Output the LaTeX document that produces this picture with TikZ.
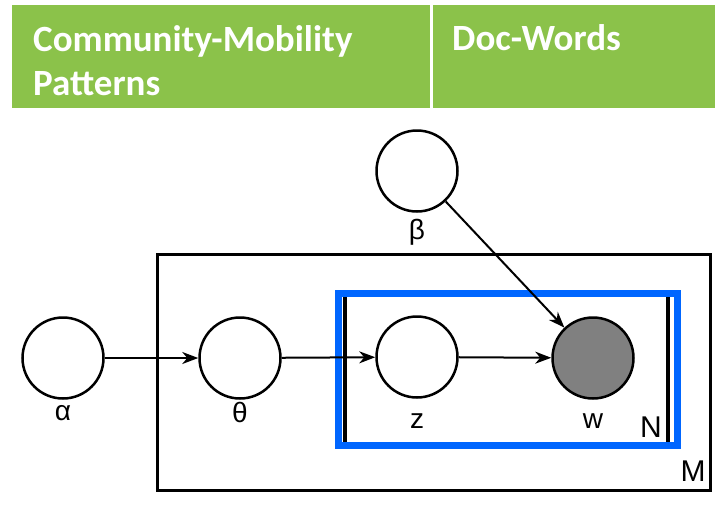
\documentclass[tikz,border=0pt]{standalone}
\usepackage{fontspec}
\setmainfont{Carlito}
\newfontfamily\labelfont{Liberation Sans}
\usetikzlibrary{arrows.meta}
\definecolor{headergreen}{HTML}{8BC24A}
\definecolor{plateblue}{HTML}{0066FF}
\definecolor{obsgray}{HTML}{808080}
\tikzset{
  header/.style={text=white, font=\fontsize{37}{43}\selectfont\bfseries, inner sep=0pt, anchor=base west},
  var/.style={circle, draw=black, line width=2.5pt, minimum size=81pt, inner sep=0pt, fill=white},
  obs/.style={var, fill=obsgray},
  lbl/.style={font=\labelfont\fontsize{28}{28}\selectfont, inner sep=0pt, anchor=base},
  platelbl/.style={font=\labelfont\fontsize{30}{30}\selectfont, inner sep=0pt, anchor=base},
  edge/.style={draw=black, line width=2pt, -{Stealth[length=16pt, width=12pt, inset=5pt]}},
  plate/.style={draw=black, line width=3pt},
}
\begin{document}
\begin{tikzpicture}[x=1pt, y=-1pt]
  \useasboundingbox (0,0) rectangle (715,523);
  % title band
  \fill[headergreen] (12,5) rectangle (715,108);
  \draw[white, line width=3pt] (431,5) -- (431,108);
  \node[header] (t1) at (33,51) {Community-Mobility};
  \node[header] (t2) at (33,95) {Patterns};
  \node[header] (t3) at (452,50) {Doc-Words};
  % outer plate M
  \draw[plate] (157,254) rectangle (710,490);
  \node[platelbl] (M) at (693,481) {M};
  % inner plate N
  \draw[black, line width=4pt] (345,294) -- (345,446);
  \draw[black, line width=4pt] (668,294) -- (668,446);
  \draw[plateblue, line width=7pt] (338.5,293.5) rectangle (677.5,445.5);
  \node[platelbl] (N) at (651,437) {N};
  % variables
  \node[var] (alpha) at (63,358) {};
  \node[var] (theta) at (240,358) {};
  \node[var] (beta) at (417,171) {};
  \node[var] (z) at (417,357) {};
  \node[obs] (w) at (593,358) {};
  \node[lbl] (la) at (63,420) {α};
  \node[lbl] (lt) at (240,422) {θ};
  \node[lbl] (lb) at (417,239) {β};
  \node[lbl] (lz) at (417,428) {z};
  \node[lbl] (lw) at (593,428) {w};
  % dependencies
  \draw[edge] (alpha) -- (theta);
  \draw[edge] (theta) -- (z);
  \draw[edge] (z) -- (w);
  \draw[edge] (beta) -- (w);
\end{tikzpicture}
\end{document}
